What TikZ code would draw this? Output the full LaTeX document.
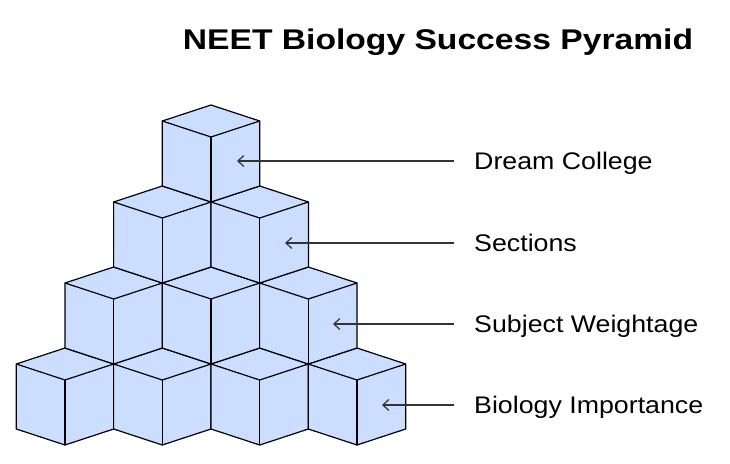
\documentclass[tikz,border=0pt]{standalone}
\usepackage{fontspec}
\usetikzlibrary{arrows.meta}
\newfontfamily\labfont[FakeStretch=1.115]{Liberation Sans}
\newfontfamily\ttlfont[FakeStretch=1.18]{Liberation Sans}
\definecolor{cubefill}{RGB}{204,222,255}
\definecolor{arrgray}{RGB}{51,51,51}
\tikzset{
  cubeline/.style={draw=black, line width=1.2pt, line join=round, fill=cubefill},
  edge/.style={draw=black, line width=1.2pt, line cap=round},
  arr/.style={draw=arrgray, line width=1.2pt, -{Straight Barb[length=6pt,width=11pt]}},
  lab/.style={anchor=base west, inner sep=0pt, font=\labfont\fontsize{24}{28}\selectfont},
  ttl/.style={anchor=base, inner sep=0pt, font=\ttlfont\bfseries\fontsize{28.5}{32}\selectfont}
}
\newcommand{\mycube}[2]{%
  \path[cubeline] (#1,#2) -- ++(-48.7,16) -- ++(0,65) -- ++(48.7,16) -- ++(48.7,-16) -- ++(0,-65) -- cycle;
  \draw[edge] (#1-48.7,#2+16) -- (#1,#2+32) -- (#1+48.7,#2+16);
  \draw[edge] (#1,#2+32) -- (#1,#2+97);
}
\begin{document}
\begin{tikzpicture}[x=1pt,y=-1pt]
\useasboundingbox (0,0) rectangle (730,463);
% bottom row
\mycube{65}{348}
\mycube{162.3}{348}
\mycube{259.7}{348}
\mycube{357}{348}
% third row
\mycube{113.7}{267}
\mycube{211}{267}
\mycube{308.3}{267}
% second row
\mycube{162.3}{186}
\mycube{259.7}{186}
% top
\mycube{211}{105}
% title
\node[ttl] (title) at (438,49) {NEET Biology Success Pyramid};
% labels
\node[lab] (l1) at (474,169.5) {Dream College};
\node[lab] (l2) at (474,251.5) {Sections};
\node[lab] (l3) at (474,332.5) {Subject Weightage};
\node[lab] (l4) at (474,413.5) {Biology Importance};
\coordinate (t1) at (237,161);
\coordinate (t2) at (285,243);
\coordinate (t3) at (333,324);
\coordinate (t4) at (382,405);
\coordinate (s1) at (454,161);
\coordinate (s2) at (454,243);
\coordinate (s3) at (454,324);
\coordinate (s4) at (454,405);
\draw[arr] (s1) -- (t1);
\draw[arr] (s2) -- (t2);
\draw[arr] (s3) -- (t3);
\draw[arr] (s4) -- (t4);
\end{tikzpicture}
\end{document}
